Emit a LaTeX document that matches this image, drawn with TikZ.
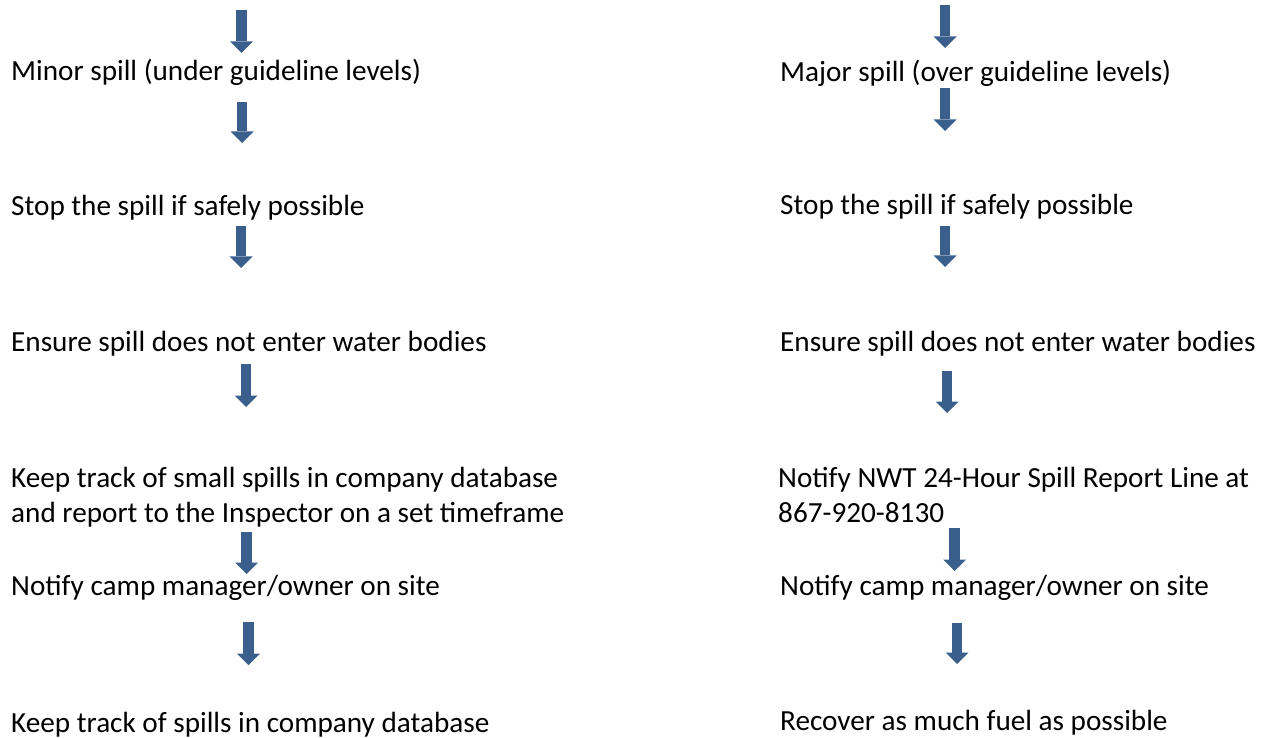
\documentclass[tikz,border=0pt]{standalone}
\usepackage{fontspec}
\setmainfont{Carlito}
\usetikzlibrary{arrows.meta,positioning}
\definecolor{arrowblue}{RGB}{58,95,140}

\begin{document}
\begin{tikzpicture}[x=1pt,y=-1pt,
    action/.style={anchor=base west,inner sep=0pt,align=left,
      font=\fontsize{29.2}{35}\selectfont},
    flow/.style={arrowblue,line width=10.5pt,
      -{Triangle[width=23pt,length=11.5pt,line width=0pt]}}]
  \useasboundingbox (0,0) rectangle (1270,738);
  % minor spill column
  \node[action] (minor)   at (11,81)  {Minor spill (under guideline levels)};
  \node[action] (stopL)   at (11,216) {Stop the spill if safely possible};
  \node[action] (ensureL) at (11,352) {Ensure spill does not enter water bodies};
  \node[action] (trackL)  at (11,522.5) {Keep track of small spills in company database\\and report to the Inspector on a set timeframe};
  \node[action] (campL)   at (11,595) {Notify camp manager/owner on site};
  \node[action] (recordL) at (11,732) {Keep track of spills in company database};
  % major spill column
  \node[action] (major)   at (780,82)  {Major spill (over guideline levels)};
  \node[action] (stopR)   at (780,215) {Stop the spill if safely possible};
  \node[action] (ensureR) at (780,352) {Ensure spill does not enter water bodies};
  \node[action] (notifyR) at (778,522.5) {Notify NWT 24-Hour Spill Report Line at\\867-920-8130};
  \node[action] (campR)   at (780,595) {Notify camp manager/owner on site};
  \node[action] (recoverR) at (780,730) {Recover as much fuel as possible};
  % arrow ends
  \coordinate (l0a) at (241.5,10);  \coordinate (l0b) at (241.5,53);
  \coordinate (l1a) at (242,102);   \coordinate (l1b) at (242,143);
  \coordinate (l2a) at (241,226);   \coordinate (l2b) at (241,268);
  \coordinate (l3a) at (246,364);   \coordinate (l3b) at (246,407);
  \coordinate (l4a) at (246.5,532); \coordinate (l4b) at (246.5,574);
  \coordinate (l5a) at (248.5,622); \coordinate (l5b) at (248.5,665);
  \coordinate (r0a) at (945,5);     \coordinate (r0b) at (945,48);
  \coordinate (r1a) at (945,88);    \coordinate (r1b) at (945,131);
  \coordinate (r2a) at (945,226);   \coordinate (r2b) at (945,267);
  \coordinate (r3a) at (947,371);   \coordinate (r3b) at (947,413);
  \coordinate (r4a) at (954.5,528); \coordinate (r4b) at (954.5,571);
  \coordinate (r5a) at (957,623);   \coordinate (r5b) at (957,664);
  \path[flow]
    (l0a) edge (l0b)
    (l1a) edge (l1b)
    (l2a) edge (l2b)
    (l3a) edge (l3b)
    (l4a) edge (l4b)
    (l5a) edge (l5b)
    (r0a) edge (r0b)
    (r1a) edge (r1b)
    (r2a) edge (r2b)
    (r3a) edge (r3b)
    (r4a) edge (r4b)
    (r5a) edge (r5b);
\end{tikzpicture}
\end{document}
